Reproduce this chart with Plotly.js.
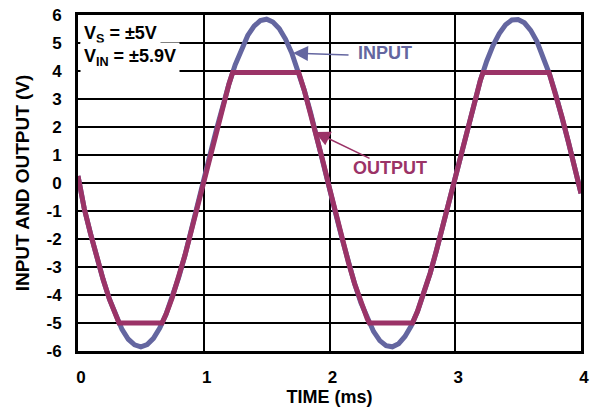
<!DOCTYPE html>
<html>
<head>
<meta charset="utf-8">
<script src="https://cdn.plot.ly/plotly-3.0.1.min.js"></script>
<style>html,body{margin:0;padding:0;background:#fff;}#chart{width:592px;height:408px;}</style>
</head>
<body>
<div id="chart"></div>
<script>
const inputTime = [0.00,0.05,0.10,0.15,0.20,0.25,0.30,0.35,0.40,0.45,0.50,0.55,0.60,0.65,0.70,0.75,0.80,0.85,0.90,0.95,
  1.00,1.05,1.10,1.15,1.20,1.25,1.30,1.35,1.40,1.45,1.50,1.55,1.60,1.65,1.70,1.75,1.80,1.85,1.90,1.95,
  2.00,2.05,2.10,2.15,2.20,2.25,2.30,2.35,2.40,2.45,2.50,2.55,2.60,2.65,2.70,2.75,2.80,2.85,2.90,2.95,
  3.00,3.05,3.10,3.15,3.20,3.25,3.30,3.35,3.40,3.45,3.50,3.55,3.60,3.65,3.70,3.75,3.80,3.85,3.90,3.95,4.00];
const inputVolts = [0.25,-0.92,-1.82,-2.67,-3.45,-4.15,-4.75,-5.23,-5.58,-5.78,-5.85,-5.77,-5.55,-5.18,-4.69,-4.09,-3.38,-2.59,-1.73,-0.83,
  0.09,1.01,1.90,2.75,3.53,4.22,4.80,5.27,5.60,5.80,5.85,5.75,5.52,5.14,4.64,4.02,3.30,2.50,1.64,0.74,
  -0.18,-1.10,-1.99,-2.83,-3.60,-4.28,-4.85,-5.30,-5.63,-5.81,-5.85,-5.74,-5.48,-5.10,-4.58,-3.95,-3.23,-2.42,-1.55,-0.65,
  0.28,1.19,2.08,2.91,3.67,4.35,4.91,5.34,5.65,5.82,5.84,5.72,5.45,5.05,4.52,3.88,3.15,2.34,1.46,0.55,-0.37];

// Output waveform (V), clipped at about +3.95 V and -5.0 V
const outputTime = [0.00,0.05,0.10,0.15,0.20,0.25,0.30,0.326,0.668,
  0.70,0.75,0.80,0.85,0.90,0.95,1.00,1.05,1.10,1.15,1.20,1.23,1.755,
  1.80,1.85,1.90,1.95,2.00,2.05,2.10,2.15,2.20,2.25,2.30,2.317,2.66,
  2.70,2.75,2.80,2.85,2.90,2.95,3.00,3.05,3.10,3.15,3.20,3.221,3.745,
  3.75,3.80,3.85,3.90,3.95,4.00];
const outputVolts = [0.25,-0.92,-1.82,-2.67,-3.45,-4.15,-4.75,-5.0,-5.0,
  -4.69,-4.09,-3.38,-2.59,-1.73,-0.83,0.09,1.01,1.90,2.75,3.53,3.95,3.95,
  3.30,2.50,1.64,0.74,-0.18,-1.10,-1.99,-2.83,-3.60,-4.28,-4.85,-5.0,-5.0,
  -4.58,-3.95,-3.23,-2.42,-1.55,-0.65,0.28,1.19,2.08,2.91,3.67,3.95,3.95,
  3.88,3.15,2.34,1.46,0.55,-0.37];

const xTicks = [0,1,2,3,4];
const yTicks = [-6,-5,-4,-3,-2,-1,0,1,2,3,4,5,6];

const BLUE = '#6466a0';
const RED = '#9b3367';
const FONT = '"Liberation Sans", Arial, sans-serif';

const traces = [
  {x: inputTime, y: inputVolts, type: 'scatter', mode: 'lines', name: 'INPUT',
   line: {color: BLUE, width: 5}, hoverinfo: 'skip'},
  {x: outputTime, y: outputVolts, type: 'scatter', mode: 'lines', name: 'OUTPUT',
   line: {color: RED, width: 5}, hoverinfo: 'skip'}
];

const layout = {
  width: 592, height: 408,
  margin: {l: 78, r: 11, t: 15, b: 57, pad: 0},
  paper_bgcolor: '#fff', plot_bgcolor: '#fff',
  showlegend: false,
  font: {family: FONT, color: '#000'},
  xaxis: {
    range: [0, 4], tickvals: xTicks, ticktext: xTicks.map(String),
    showgrid: true, gridcolor: '#000', gridwidth: 2,
    zeroline: false, showline: true, mirror: true, linecolor: '#000', linewidth: 3,
    ticks: '', ticklabelstandoff: 9, ticklabelshift: 3,
    tickfont: {family: FONT, size: 17, weight: 'bold', color: '#000'},
    title: {text: 'TIME (ms)', font: {family: FONT, size: 18, weight: 'bold', color: '#000'}, standoff: 3}
  },
  yaxis: {
    range: [-6, 6], tickvals: yTicks, ticktext: yTicks.map(String),
    showgrid: true, gridcolor: '#000', gridwidth: 2,
    zeroline: false, showline: true, mirror: true, linecolor: '#000', linewidth: 3,
    ticks: '', ticklabelstandoff: 10,
    tickfont: {family: FONT, size: 17, weight: 'bold', color: '#000'},
    title: {text: 'INPUT AND OUTPUT (V)', font: {family: FONT, size: 19, weight: 'bold', color: '#000'}, standoff: 12}
  },
  annotations: [
    {xref: 'paper', yref: 'paper', x: 0.004, y: 0.943, xanchor: 'left', yanchor: 'middle',
     text: 'V<sub>S</sub> = ±5V', showarrow: false, bgcolor: '#fff', borderpad: 3,
     font: {family: FONT, size: 18, weight: 'bold', color: '#000'}},
    {xref: 'paper', yref: 'paper', x: 0.004, y: 0.873, xanchor: 'left', yanchor: 'middle',
     text: 'V<sub>IN</sub> = ±5.9V', showarrow: false, bgcolor: '#fff', borderpad: 3,
     font: {family: FONT, size: 18, weight: 'bold', color: '#000'}},
    {xref: 'x', yref: 'y', x: 2.44, y: 4.63, text: 'INPUT', showarrow: false,
     xanchor: 'center', yanchor: 'middle',
     font: {family: FONT, size: 18, weight: 'bold', color: BLUE}},
    {xref: 'x', yref: 'y', x: 2.48, y: 0.52, text: 'OUTPUT', showarrow: false,
     xanchor: 'center', yanchor: 'middle',
     font: {family: FONT, size: 18, weight: 'bold', color: RED}},
    {xref: 'x', yref: 'y', x: 1.71, y: 4.64, text: '', showarrow: true,
     ax: 57, ay: 2, arrowhead: 2, arrowsize: 2, arrowwidth: 1.5, arrowcolor: BLUE},
    {xref: 'x', yref: 'y', x: 1.885, y: 1.82, text: '', showarrow: true,
     ax: 56, ay: 27, arrowhead: 2, arrowsize: 2, arrowwidth: 1.5, arrowcolor: RED}
  ]
};

Plotly.newPlot('chart', traces, layout, {staticPlot: true, displayModeBar: false});
</script>
</body>
</html>
